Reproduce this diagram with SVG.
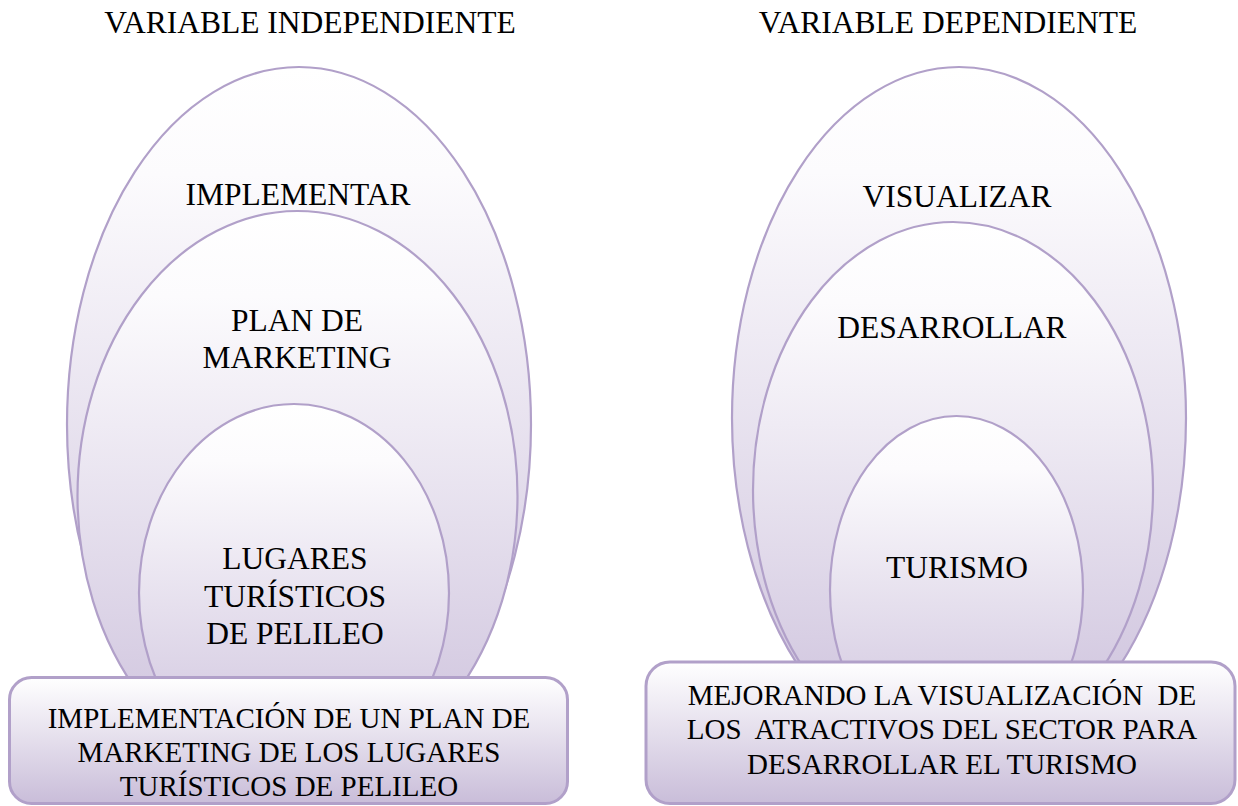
<svg xmlns="http://www.w3.org/2000/svg" width="1238" height="806" viewBox="0 0 1238 806">
<defs>
<linearGradient id="g" x1="0" y1="0" x2="0" y2="1">
<stop offset="0" stop-color="#ffffff"/>
<stop offset="0.15" stop-color="#fcfbfd"/>
<stop offset="1" stop-color="#cbbfdb"/>
</linearGradient>
<linearGradient id="gb" x1="0" y1="0" x2="0" y2="1">
<stop offset="0" stop-color="#ffffff"/>
<stop offset="1" stop-color="#c9bdd9"/>
</linearGradient>
</defs>
<style>
.e{fill:url(#g);stroke:#b1a0c9;stroke-width:2.2}
.b{fill:url(#gb);stroke:#b1a0c9;stroke-width:3}
.t{font-family:"Liberation Serif","Times New Roman",serif;font-size:31.5px;fill:#000;text-anchor:middle}
.s{font-family:"Liberation Serif","Times New Roman",serif;font-size:29px;fill:#000;text-anchor:middle;white-space:pre}
</style>
<g id="title-left"><text class="t" x="310" y="33">VARIABLE INDEPENDIENTE</text></g>
<g id="title-right"><text class="t" x="948" y="33">VARIABLE DEPENDIENTE</text></g>

<g id="implementar">
<ellipse class="e" cx="299" cy="424.5" rx="232" ry="357.5"/>
<text class="t" x="298" y="205">IMPLEMENTAR</text>
</g>
<g id="plan-de-marketing">
<ellipse class="e" cx="297.5" cy="496" rx="220" ry="285"/>
<text class="t" x="297" y="331">PLAN DE</text>
<text class="t" x="297" y="368">MARKETING</text>
</g>
<g id="lugares">
<ellipse class="e" cx="294" cy="593" rx="155" ry="189"/>
<text class="t" x="295" y="569">LUGARES</text>
<text class="t" x="295" y="607">TURÍSTICOS</text>
<text class="t" x="295" y="644">DE PELILEO</text>
</g>
<g id="box-left">
<rect class="b" x="9.5" y="677.5" width="558" height="126" rx="22"/>
<text class="s" x="289" y="728">IMPLEMENTACIÓN DE UN PLAN DE</text>
<text class="s" x="289" y="762">MARKETING DE LOS LUGARES</text>
<text class="s" x="289" y="796">TURÍSTICOS DE PELILEO</text>
</g>

<g id="visualizar">
<ellipse class="e" cx="959" cy="418" rx="227" ry="351"/>
<text class="t" x="957" y="207">VISUALIZAR</text>
</g>
<g id="desarrollar">
<ellipse class="e" cx="953" cy="490" rx="200" ry="268"/>
<text class="t" x="952" y="338">DESARROLLAR</text>
</g>
<g id="turismo">
<ellipse class="e" cx="956.5" cy="590" rx="126.5" ry="174"/>
<text class="t" x="957" y="578">TURISMO</text>
</g>
<g id="box-right">
<rect class="b" x="646" y="662" width="589" height="141.5" rx="24"/>
<text class="s" x="942" y="705" xml:space="preserve">MEJORANDO LA VISUALIZACIÓN  DE</text>
<text class="s" x="942" y="739" xml:space="preserve">LOS  ATRACTIVOS DEL SECTOR PARA</text>
<text class="s" x="942" y="774">DESARROLLAR EL TURISMO</text>
</g>
<g id="connectors"/>
</svg>
